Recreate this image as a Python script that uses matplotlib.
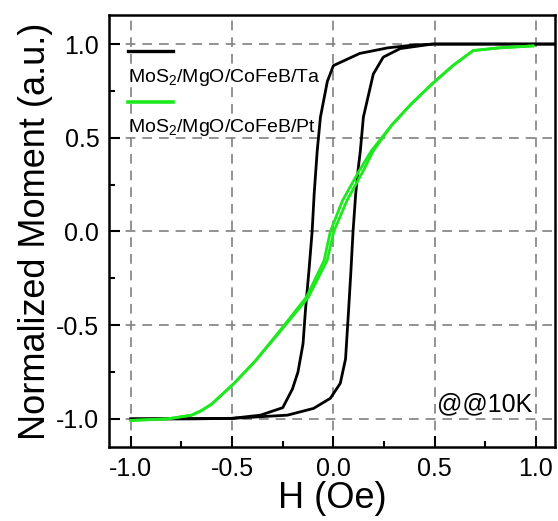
import matplotlib
matplotlib.use('Agg')
import matplotlib.pyplot as plt
import numpy as np

plt.rcParams.update({'font.family': 'Liberation Sans',
                     'mathtext.fontset': 'custom',
                     'mathtext.rm': 'Liberation Sans',
                     'mathtext.it': 'Liberation Sans',
                     'axes.unicode_minus': False,
                     'lines.scale_dashes': False})

# MoS2/MgO/CoFeB/Ta (black) - descending and ascending branches
ta_down_h = [1.1, 1.0, 0.5, 0.4, 0.27, 0.13, 0.0, -0.03, -0.064, -0.08, -0.095, -0.105,
             -0.12, -0.138, -0.15, -0.175, -0.202, -0.25, -0.36, -0.5, -0.7, -1.0]
ta_down_m = [1.0, 1.0, 1.0, 0.995, 0.98, 0.95, 0.885, 0.80, 0.61, 0.43, 0.2, 0.0,
             -0.2, -0.42, -0.60, -0.75, -0.84, -0.94, -0.98, -0.997, -1.0, -1.0]
ta_up_h = [-1.0, -0.5, -0.227, -0.098, -0.015, 0.034, 0.06, 0.075, 0.086, 0.097, 0.11,
           0.123, 0.133, 0.148, 0.197, 0.246, 0.33, 0.49, 0.7, 1.1]
ta_up_m = [-1.0, -0.997, -0.98, -0.944, -0.89, -0.81, -0.68, -0.42, -0.22, 0.0, 0.2,
           0.34, 0.43, 0.61, 0.84, 0.93, 0.976, 1.0, 1.0, 1.0]

# MoS2/MgO/CoFeB/Pt (green)
pt_up_h = [-1.0, -0.82, -0.70, -0.65, -0.60, -0.49, -0.385, -0.26, -0.123, -0.031, 0.002,
           0.067, 0.148, 0.197, 0.286, 0.384, 0.49, 0.59, 0.69, 0.82, 0.985]
pt_up_m = [-1.008, -1.0, -0.98, -0.955, -0.92, -0.81, -0.69, -0.53, -0.35, -0.155, 0.0,
           0.165, 0.325, 0.43, 0.565, 0.68, 0.79, 0.885, 0.965, 0.98, 0.99]
pt_down_h = [0.985, 0.82, 0.69, 0.59, 0.49, 0.384, 0.286, 0.187, 0.128, 0.045, -0.015,
             -0.046, -0.133, -0.265, -0.385, -0.49, -0.60, -0.65, -0.70, -0.82, -1.0]
pt_down_m = [0.99, 0.98, 0.965, 0.885, 0.79, 0.68, 0.565, 0.43, 0.325, 0.165, 0.0,
             -0.155, -0.35, -0.53, -0.69, -0.81, -0.92, -0.955, -0.98, -1.0, -1.008]

ticks = [-1.0, -0.5, 0.0, 0.5, 1.0]
green = '#1ee81e'

fig = plt.figure(figsize=(5.58, 5.21), dpi=100)
ax = fig.add_axes([0.1953, 0.142, 0.7993, 0.8292])

ax.plot(ta_down_h, ta_down_m, color='black', lw=2.0, zorder=3)
ax.plot(ta_up_h, ta_up_m, color='black', lw=2.0, zorder=3)
ax.plot(pt_up_h, pt_up_m, color=green, lw=2.0, zorder=4)
ax.plot(pt_down_h, pt_down_m, color=green, lw=2.0, zorder=4)

ax.set_xlim(-1.108, 1.094)
ax.set_ylim(-1.15, 1.155)
ax.set_xticks(ticks)
ax.set_yticks(ticks)
ax.set_xticks(np.arange(-0.75, 1.0, 0.5), minor=True)
ax.set_yticks(np.arange(-0.75, 1.0, 0.5), minor=True)
ax.tick_params(which='major', direction='in', length=8, width=1.5, labelsize=18, pad=7)
ax.tick_params(which='minor', direction='in', length=4.5, width=1.5)
ax.grid(True, which='major', color='#808080', linestyle=(0, (7, 5)), lw=1.2)
for s in ax.spines.values():
    s.set_linewidth(1.8)

ax.set_xlabel('H (Oe)', fontsize=26, labelpad=0)
ax.set_ylabel('Normalized Moment (a.u.)', fontsize=26, labelpad=2)

# Origin-style legend: line above its label
ax.plot([0.043, 0.143], [0.916, 0.916], color='black', lw=2.4, transform=ax.transAxes)
ax.text(0.0426, 0.8456, 'MoS$_2$/MgO/CoFeB/Ta', fontsize=14, va='baseline',
        transform=ax.transAxes)
ax.plot([0.043, 0.143], [0.799, 0.799], color=green, lw=2.6, transform=ax.transAxes)
ax.text(0.0426, 0.730, 'MoS$_2$/MgO/CoFeB/Pt', fontsize=14, va='baseline',
        transform=ax.transAxes)

ax.text(0.948, 0.0817, '@@10K', fontsize=18, ha='right', va='baseline', transform=ax.transAxes)

plt.savefig('out.png', dpi=100)
